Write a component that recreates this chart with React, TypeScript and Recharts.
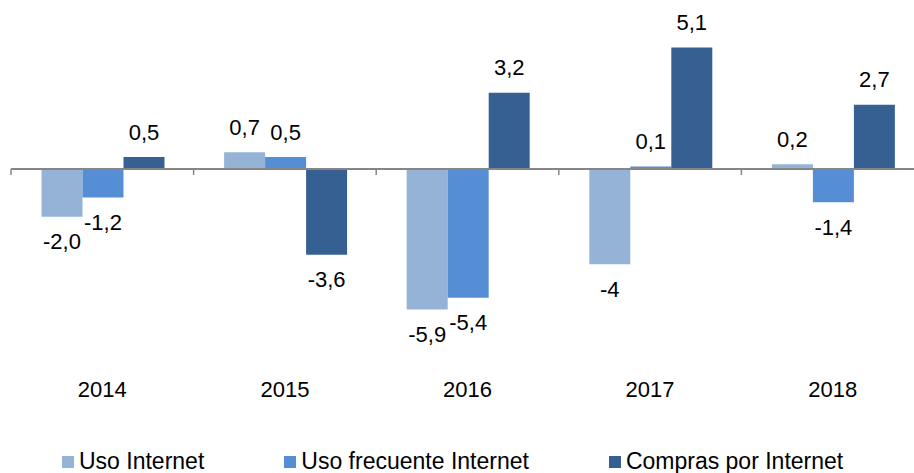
import { BarChart, Bar, XAxis, YAxis, ReferenceLine, LabelList, Legend } from "recharts";

const years = ["2014", "2015", "2016", "2017", "2018"];
const usoInternet = [-2.0, 0.7, -5.9, -4, 0.2];
const usoFrecuente = [-1.2, 0.5, -5.4, 0.1, -1.4];
const compras = [0.5, -3.6, 3.2, 5.1, 2.7];

// labels as printed on the chart (comma decimals)
const usoInternetLabels = ["-2,0", "0,7", "-5,9", "-4", "0,2"];
const usoFrecuenteLabels = ["-1,2", "0,5", "-5,4", "0,1", "-1,4"];
const comprasLabels = ["0,5", "-3,6", "3,2", "5,1", "2,7"];

const data = years.map((year, i) => ({
  year,
  usoInternet: usoInternet[i],
  usoFrecuente: usoFrecuente[i],
  compras: compras[i],
}));

const series = [
  { key: "usoInternet", name: "Uso Internet", color: "#95b3d7", labels: usoInternetLabels },
  { key: "usoFrecuente", name: "Uso frecuente Internet", color: "#558ed5", labels: usoFrecuenteLabels },
  { key: "compras", name: "Compras por Internet", color: "#376092", labels: comprasLabels },
];

const FONT = '"Liberation Sans", Arial, Helvetica, sans-serif';
const CHART_W = 924;
const CHART_H = 473;
const LEFT = 11;
const TOP = 26;
const PLOT_H = 286;
const ZERO_Y = TOP + PLOT_H / 2;
const AXIS_GREY = "#868686";

const makeLabel = (labels: string[], values: number[]) => (props: any) => {
  const { x, y, width, height, index } = props;
  const top = Math.min(y, y + height);
  const bottom = Math.max(y, y + height);
  const v = values[index];
  const cy = v >= 0 ? top - 25 : bottom + 25;
  return (
    <text
      x={x + width / 2}
      y={cy}
      textAnchor="middle"
      dominantBaseline="central"
      fontSize={22}
      fontFamily={FONT}
      fill="#000"
    >
      {labels[index]}
    </text>
  );
};

const YearTick = (props: any) => {
  const { x, payload } = props;
  const half = payload.offset ?? (CHART_W - LEFT) / years.length / 2;
  return (
    <g>
      <line x1={x - half} x2={x - half} y1={ZERO_Y} y2={ZERO_Y + 6} stroke={AXIS_GREY} strokeWidth={1.5} />
      <text x={x} y={389} textAnchor="middle" dominantBaseline="central" fontSize={22} fontFamily={FONT} fill="#000">
        {payload.value}
      </text>
    </g>
  );
};

const renderLegend = () => (
  <div
    style={{
      display: "flex",
      paddingLeft: 62,
      fontFamily: FONT,
      fontSize: 23,
      height: 35,
      alignItems: "center",
      whiteSpace: "nowrap",
      width: 914,
      boxSizing: "border-box",
    }}
  >
    {series.map((s, i) => (
      <div
        key={s.key}
        style={{ display: "flex", alignItems: "center", marginRight: i < series.length - 1 ? 80 : 0, flexShrink: 0 }}
      >
        <span style={{ width: 12, height: 12, background: s.color, display: "inline-block", marginRight: 5, flexShrink: 0 }} />
        <span style={{ color: "#000", whiteSpace: "nowrap" }}>{s.name}</span>
      </div>
    ))}
  </div>
);

export default function App() {
  return (
    <div style={{ position: "fixed", top: 0, left: 0, width: 914, height: 473, overflow: "hidden", background: "#fff" }}>
      <BarChart
        width={CHART_W}
        height={CHART_H}
        data={data}
        margin={{ top: TOP, right: 0, left: LEFT, bottom: 0 }}
        barCategoryGap="16.7%"
        barGap={0}
      >
        <XAxis
          dataKey="year"
          axisLine={false}
          tickLine={false}
          height={CHART_H - TOP - PLOT_H - 35}
          tick={<YearTick />}
          interval={0}
        />
        <YAxis hide domain={[-6, 6]} />
        {series.map((s) => (
          <Bar key={s.key} dataKey={s.key} name={s.name} fill={s.color} isAnimationActive={false}>
            <LabelList dataKey={s.key} content={makeLabel(s.labels, data.map((d: any) => d[s.key]))} />
          </Bar>
        ))}
        <ReferenceLine y={0} stroke={AXIS_GREY} strokeWidth={2} />
        <Legend
          verticalAlign="bottom"
          content={renderLegend}
          wrapperStyle={{ left: 0, bottom: -6, width: 914 }}
        />
      </BarChart>
    </div>
  );
}
